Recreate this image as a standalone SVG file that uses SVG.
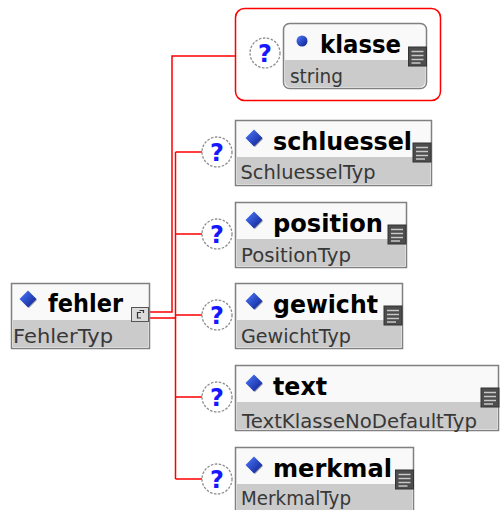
<svg xmlns="http://www.w3.org/2000/svg" width="500" height="510" viewBox="0 0 500 510">
<style>
.box{fill:#f9f9f9;stroke:#808080;stroke-width:1.5}
.sub{fill:#cbcbcb}
.t{font-family:"DejaVu Sans",sans-serif;font-weight:bold;font-size:24px;fill:#000}
.s{font-family:"DejaVu Sans",sans-serif;font-size:20px;fill:#383838}
.c{stroke:#ff0000;stroke-width:1.5;fill:none}
.qc{fill:#ffffff;stroke:#8c8c8c;stroke-width:1.3;stroke-dasharray:2.5 1.5}
.qt{font-family:"DejaVu Sans",sans-serif;font-weight:bold;font-size:24px;fill:#1818ff;text-anchor:middle}
</style>
<defs>
<linearGradient id="bg" x1="0" y1="0" x2="1" y2="1">
<stop offset="0" stop-color="#4f7cff"/>
<stop offset="1" stop-color="#0a1c8c"/>
</linearGradient>
<g id="doc">
<rect x="0" y="0" width="18" height="19" fill="#4d4d4d" stroke="#333"/>
<path d="M3,4.5H15M3,8.5H15M3,12.5H15M3,16H12" stroke="#c8c8c8" stroke-width="1.5"/>
</g>
<g id="dia">
<polygon points="1,-7 9,1 1,9 -7,1" fill="#1a1a40" opacity="0.45"/>
<polygon points="0,-8.5 8.5,0 0,8.5 -8.5,0" fill="url(#bg)"/>
</g>
<g id="q">
<circle cx="0" cy="0" r="15" class="qc"/>
<text x="0" y="8.5" class="qt">?</text>
</g>
</defs>

<g id="connectors">
<path class="c" d="M149,312H172V56H235.5"/>
<path class="c" d="M149,318H175.5V479"/>
<path class="c" d="M175.5,152V318"/>
<path class="c" d="M175.5,152H202M175.5,234H202M175.5,315H202M175.5,397H202M175.5,479H202"/>
</g>

<g id="fehler">
<rect class="box" x="11.5" y="283.5" width="138" height="65"/>
<rect class="sub" x="13" y="320" width="135" height="27"/>
<use href="#dia" x="28" y="299"/>
<text class="t" x="48" y="312" textLength="75" lengthAdjust="spacingAndGlyphs">fehler</text>
<text class="s" x="13" y="343" textLength="100" lengthAdjust="spacingAndGlyphs">FehlerTyp</text>
<rect x="131.5" y="307.5" width="17" height="14" fill="#dcdcdc" stroke="#555"/>
<path d="M141,312.5H137.5V318H141M139.5,310.5H143.5V313" fill="none" stroke="#333" stroke-width="1.2"/>
</g>

<g id="klasse">
<rect x="235.5" y="8.5" width="205" height="92" rx="9" fill="#fff" stroke="#ff0000" stroke-width="1.5"/>
<use href="#q" x="265" y="53"/>
<rect x="283.5" y="23.5" width="143" height="65" rx="6" class="box"/>
<path class="sub" d="M285,60H425V81Q425,87 419,87H291Q285,87 285,81Z"/>
<circle cx="302" cy="41" r="5.5" fill="url(#bg)"/>
<text class="t" x="320" y="53" textLength="81" lengthAdjust="spacingAndGlyphs">klasse</text>
<text class="s" x="290" y="82.5" textLength="53" lengthAdjust="spacingAndGlyphs">string</text>
<use href="#doc" x="408.5" y="47"/>
</g>

<g id="schluessel">
<use href="#q" x="217" y="152"/>
<rect class="box" x="235.5" y="120.5" width="196" height="65"/>
<rect class="sub" x="237" y="157" width="193" height="27"/>
<use href="#dia" x="254" y="138"/>
<text class="t" x="273" y="149.5" textLength="139" lengthAdjust="spacingAndGlyphs">schluessel</text>
<text class="s" x="240.5" y="179" textLength="135" lengthAdjust="spacingAndGlyphs">SchluesselTyp</text>
<use href="#doc" x="413" y="143"/>
</g>

<g id="position">
<use href="#q" x="217" y="234"/>
<rect class="box" x="235.5" y="202.5" width="171" height="65"/>
<rect class="sub" x="237" y="239" width="168" height="27"/>
<use href="#dia" x="254" y="220"/>
<text class="t" x="273" y="231.5" textLength="110" lengthAdjust="spacingAndGlyphs">position</text>
<text class="s" x="241" y="261.5" textLength="110" lengthAdjust="spacingAndGlyphs">PositionTyp</text>
<use href="#doc" x="388" y="225"/>
</g>

<g id="gewicht">
<use href="#q" x="217" y="315"/>
<rect class="box" x="235.5" y="283.5" width="167" height="65"/>
<rect class="sub" x="237" y="320" width="164" height="27"/>
<use href="#dia" x="254" y="301"/>
<text class="t" x="273" y="312.5" textLength="105" lengthAdjust="spacingAndGlyphs">gewicht</text>
<text class="s" x="241" y="342.5" textLength="110" lengthAdjust="spacingAndGlyphs">GewichtTyp</text>
<use href="#doc" x="384" y="306"/>
</g>

<g id="text">
<use href="#q" x="217" y="397"/>
<rect class="box" x="235.5" y="365.5" width="263" height="65"/>
<rect class="sub" x="237" y="402" width="260" height="27"/>
<use href="#dia" x="254" y="383"/>
<text class="t" x="273" y="394.5" textLength="54" lengthAdjust="spacingAndGlyphs">text</text>
<text class="s" x="242" y="428" textLength="235" lengthAdjust="spacingAndGlyphs">TextKlasseNoDefaultTyp</text>
<use href="#doc" x="481" y="388"/>
</g>

<g id="merkmal">
<use href="#q" x="217" y="479"/>
<rect class="box" x="235.5" y="447.5" width="178" height="65"/>
<rect class="sub" x="237" y="484" width="175" height="27"/>
<use href="#dia" x="254" y="465"/>
<text class="t" x="273" y="476.5" textLength="119" lengthAdjust="spacingAndGlyphs">merkmal</text>
<text class="s" x="241" y="504.5" textLength="110" lengthAdjust="spacingAndGlyphs">MerkmalTyp</text>
<use href="#doc" x="395.5" y="470"/>
</g>
</svg>
